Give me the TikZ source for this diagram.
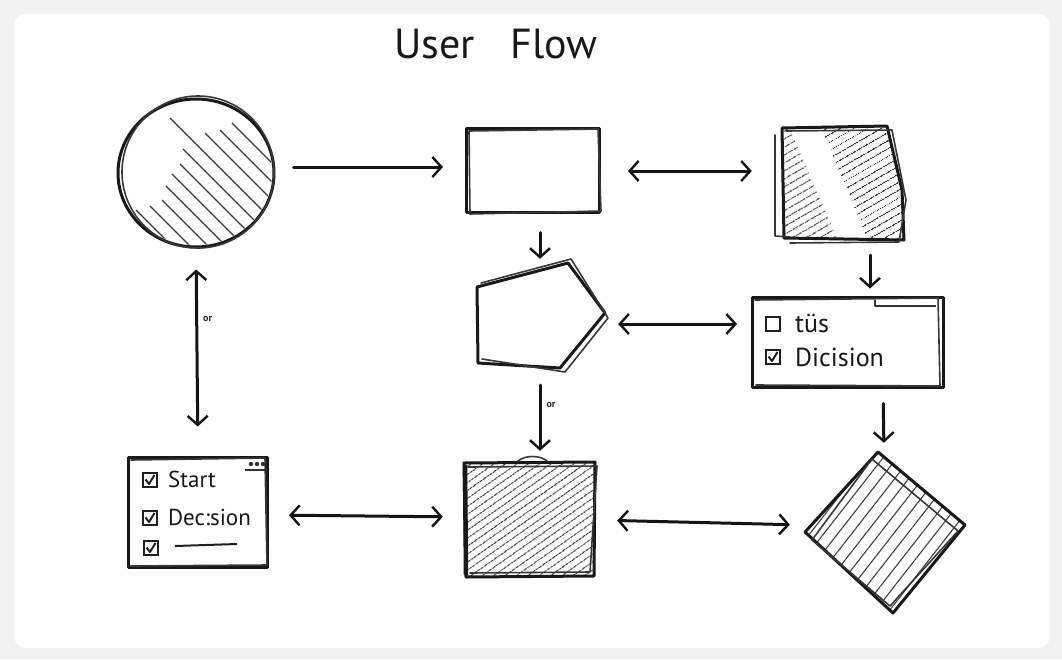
\documentclass[tikz,border=0pt]{standalone}
\usepackage{fontspec}
\setmainfont{PT Sans}
\usetikzlibrary{arrows.meta,shapes.geometric,patterns.meta,calc}
\newcommand\mybox[3]{%
  \draw[line width=2.2pt, black!88] (#1-7,#2-7) rectangle (#1+7,#2+7);
  \ifnum#3=1 \draw[line width=2pt, black!88, line join=round] (#1-4.5,#2-0.5) -- (#1-1,#2+4) -- (#1+4.5,#2-5);\fi}
\begin{document}
\begin{tikzpicture}[x=1pt,y=-1pt,
  sk/.style={line width=3pt, draw=black!90, line join=round, line cap=round},
  sktwo/.style={line width=1.6pt, draw=black!78, line join=round, line cap=round},
  hatchline/.style={line width=1.3pt, draw=black!78},
  tip/.tip={Straight Barb[length=9pt,width=20pt,line width=2.4pt]},
  arr/.style={line width=3pt, draw=black!92, line cap=round, -tip},
  darr/.style={line width=3pt, draw=black!92, line cap=round, tip-tip},
  lbl/.style={anchor=base west, inner sep=0pt, text=black!90},
  small/.style={font=\bfseries\fontsize{10}{11}\selectfont, inner sep=1pt, text=black!85},
  ghost/.style={draw=none, inner sep=0pt},
]
% background
\fill[black!5] (0,0) rectangle (1062,659);
\fill[white, rounded corners=12pt] (14,14) rectangle (1050,648);
\useasboundingbox (0,0) rectangle (1062,659);

% title
\node[font=\fontsize{42}{46}\selectfont, text=black!90] (title) at (496,44) {User\hspace{36pt}Flow};

% ---------- circle ----------
\node[ellipse, sk, minimum width=156pt, minimum height=148pt] (circ) at (196,173) {};
\draw[sktwo] (198,172) ellipse [x radius=76, y radius=76];
\begin{scope}
  \clip (196,173) ellipse [x radius=76, y radius=72];
  \foreach \sx/\sy in {232/123, 220/130, 205/133, 170/118, 183/149, 180/164, 172/174, 166/186, 162/200, 150/206, 136/210}
    \draw[hatchline] (\sx,\sy) -- ++(140,140);
\end{scope}

% ---------- rect 1 ----------
\node[sk, draw, minimum width=133pt, minimum height=84pt] (r1) at (533,170) {};
\draw[sktwo] (469,131) -- (598,129) -- (601,211) -- (470,214) -- cycle;

% ---------- rect 2 (hatched) ----------
\node[ghost, minimum width=124pt, minimum height=114pt] (r2) at (842,183) {};
\begin{scope}
  \clip (782,128) -- (887,126) -- (902,190) -- (904,240) -- (784,238) -- cycle;
  \fill[pattern={Lines[angle=30,distance=6.5pt,line width=1.1pt]}, pattern color=black!75]
    (770,120) -- (788,125) -- (840,245) -- (770,250) -- cycle;
  \fill[pattern={Lines[angle=30,distance=6.5pt,line width=1.1pt]}, pattern color=black!75]
    (818,120) -- (910,120) -- (910,250) -- (870,245) -- cycle;
\end{scope}
\draw[sk] (782,128) -- (887,126) -- (902,190) -- (904,240) -- (784,238) -- cycle;
\draw[sktwo] (786,131) -- (892,130) -- (906,200) -- (899,242) -- (790,243);
\draw[sktwo] (775,135) -- (775,236) -- (790,237);

% ---------- pentagon ----------
\node[ghost, minimum width=128pt, minimum height=110pt] (pent) at (541,316) {};
\draw[sk] (477,287) -- (568,263) -- (605,313) -- (560,368) -- (478,363) -- cycle;
\draw[sktwo] (481,283) -- (571,259) -- (608,318) -- (565,372) -- (482,359);

% ---------- checkbox panel ----------
\node[sk, draw, minimum width=191pt, minimum height=90pt] (chk) at (848,342) {};
\draw[sktwo] (755,300) -- (938,298) -- (940,386) -- (756,385);
\draw[line width=2.2pt, black!80] (875,306) -- (936,306);
\draw[sktwo] (875,300) -- (875,306);
\mybox{773}{324}{0}
\node[lbl, font=\fontsize{26}{30}\selectfont] (t1) at (795,332) {tüs};
\mybox{773}{357}{1}
\node[lbl, font=\fontsize{26}{30}\selectfont] (t2) at (795,366) {Dicision};

% ---------- window ----------
\node[sk, draw, minimum width=139pt, minimum height=110pt] (win) at (198,512) {};
\draw[sktwo] (131,460) -- (265,458) -- (267,565) -- (130,566);
\fill[black!80] (251,464) circle [radius=2.2] (257,464) circle [radius=2.2] (263,464) circle [radius=2.2];
\draw[line width=2pt, black!80] (245,470) -- (267,470);
\mybox{150}{480}{1}
\node[lbl, font=\fontsize{23}{27}\selectfont] (w1) at (168,487) {Start};
\mybox{150}{518}{1}
\node[lbl, font=\fontsize{23}{27}\selectfont] (w2) at (168,525) {Dec:sion};
\mybox{151}{548}{1}
\draw[line width=2pt, black!88] (175,546) -- (237,544);

% ---------- bottom square (hatched) ----------
\node[ghost, minimum width=132pt, minimum height=112pt] (r4) at (529,519) {};
\begin{scope}
  \clip (464,463) rectangle (595,576);
  \fill[pattern={Lines[angle=35,distance=6.5pt,line width=1.2pt]}, pattern color=black!78]
    (464,463) rectangle (595,576);
\end{scope}
\draw[sk] (464,463) -- (595,462) -- (594,576) -- (466,577) -- cycle;
\draw[line width=4.5pt, black!90] (465,465) -- (466,575);
\draw[sktwo] (468,467) -- (597,466) -- (590,572) -- (470,573);
\draw[sktwo] (518,461) .. controls (525,455) and (540,455) .. (547,461);

% ---------- diamond (hatched) ----------
\node[ghost, minimum width=160pt, minimum height=160pt] (dia) at (885,532) {};
\begin{scope}
  \clip (878,452) -- (965,525) -- (893,613) -- (805,532) -- cycle;
  \fill[pattern={Lines[angle=52,distance=11pt,line width=1.1pt]}, pattern color=black!75]
    (800,445) rectangle (970,620);
\end{scope}
\draw[sk] (878,452) -- (965,525) -- (893,613) -- (805,532) -- cycle;
\draw[sktwo] (872,459) -- (958,531) -- (890,606) -- (812,540) -- cycle;

% ---------- connectors ----------
\draw[arr, shorten <=18pt, shorten >=22pt] ([yshift=6pt]circ.east) -- ([yshift=3pt]r1.west);
\draw[darr, shorten <=27pt, shorten >=28pt] ([yshift=-1pt]r1.east) -- ([yshift=12pt]r2.west);
\draw[arr, shorten <=19pt, shorten >=2pt] ([xshift=7pt]r1.south) -- ([xshift=-1pt]pent.north);
\draw[arr, shorten <=15pt, shorten >=7pt] ([xshift=28pt]r2.south) -- ([xshift=22pt]chk.north);
\draw[darr, shorten <=13pt, shorten >=14pt] ([yshift=-8pt]pent.east) -- ([yshift=18pt]chk.west);
\draw[darr, shorten <=21pt, shorten >=29pt] (circ.south) -- (win.north)
  node[small, pos=0.34, right=4pt] {or};
\draw[arr, shorten <=14pt, shorten >=12pt] ([xshift=-1pt]pent.south) -- ([xshift=11pt]r4.north)
  node[small, pos=0.37, right=4pt] {or};
\draw[arr, shorten <=15pt, shorten >=9pt] ([xshift=35pt]chk.south) -- ([xshift=-1pt]dia.north);
\draw[darr, shorten <=20pt, shorten >=20pt] ([yshift=-3pt]win.east) -- ([yshift=2pt]r4.west);
\draw[darr, shorten <=22pt, shorten >=15pt] ([yshift=-1pt]r4.east) -- ([yshift=7pt]dia.west);
\end{tikzpicture}
\end{document}
